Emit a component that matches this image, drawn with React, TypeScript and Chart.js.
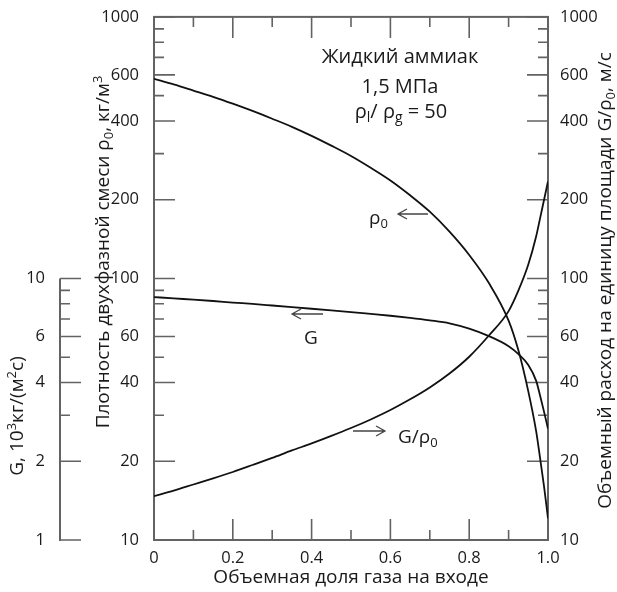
import React, { useEffect, useRef } from "react";
import { Chart, registerables } from "chart.js";

Chart.register(...registerables);

// ---- data ----
const gasFraction = [0, 0.05, 0.1, 0.15, 0.2, 0.25, 0.3, 0.35, 0.4, 0.45, 0.5, 0.55, 0.6, 0.65, 0.7, 0.75, 0.8, 0.85, 0.9, 0.925, 0.95, 0.97, 0.98, 0.99, 1.0];
const densityRho0 = [580, 552, 523, 495, 466, 437, 408, 380, 351, 322, 294, 265, 237, 208, 180, 151, 123, 96, 69, 53, 37, 26, 20.5, 16, 12.1];
const massFluxG = [8.49, 8.39, 8.3, 8.2, 8.09, 7.99, 7.88, 7.77, 7.66, 7.55, 7.44, 7.32, 7.2, 7.07, 6.92, 6.74, 6.43, 6.02, 5.51, 5.14, 4.67, 4.06, 3.56, 3.09, 2.66];
const volumeFlux = [14.7, 15.45, 16.3, 17.2, 18.2, 19.35, 20.6, 22.0, 23.4, 25.0, 26.8, 28.9, 31.4, 34.5, 38.3, 43.3, 50.2, 60.5, 75, 90, 113, 145, 170, 200, 235];

const xMajorTicks = [0, 0.2, 0.4, 0.6, 0.8, 1.0];
const xMinorTicks = [0.1, 0.3, 0.5, 0.7, 0.9];
const rhoMajorTicks = [10, 20, 40, 60, 100, 200, 400, 600, 1000];
const rhoMinorTicks = [30, 50, 70, 80, 90, 300, 500, 700, 800, 900];
const gMajorTicks = [1, 2, 4, 6, 10];
const gMinorTicks = [3, 5, 7, 8, 9];

const FONT = "'Open Sans', 'Noto Sans', sans-serif";
const TEXT = "#1a1a1a";
const AXIS = "#636363";
const CURVE = "#111";

type Seg = { t: string; k?: "sub" | "sup" };

function segFont(size: number, s: Seg) {
  return `${s.k ? Math.round(size * 0.68) : size}px ${FONT}`;
}
function measureRich(ctx: CanvasRenderingContext2D, segs: Seg[], size: number) {
  let w = 0;
  for (const s of segs) {
    ctx.font = segFont(size, s);
    w += ctx.measureText(s.t).width;
  }
  return w;
}
function drawRich(
  ctx: CanvasRenderingContext2D,
  segs: Seg[],
  x: number,
  y: number,
  size: number,
  align: "left" | "center",
  angle = 0
) {
  ctx.save();
  ctx.translate(x, y);
  ctx.rotate(angle);
  const w = measureRich(ctx, segs, size);
  let cx = align === "center" ? -w / 2 : 0;
  ctx.textBaseline = "alphabetic";
  ctx.textAlign = "left";
  ctx.fillStyle = TEXT;
  for (const s of segs) {
    ctx.font = segFont(size, s);
    const dy = s.k === "sub" ? size * 0.22 : s.k === "sup" ? -size * 0.38 : 0;
    ctx.fillText(s.t, cx, dy);
    cx += ctx.measureText(s.t).width;
  }
  ctx.restore();
}
function arrow(ctx: CanvasRenderingContext2D, x1: number, y: number, x2: number) {
  const d = Math.sign(x2 - x1);
  ctx.beginPath();
  ctx.moveTo(x1, y);
  ctx.lineTo(x2, y);
  ctx.moveTo(x2 - d * 9, y - 5);
  ctx.lineTo(x2, y);
  ctx.lineTo(x2 - d * 9, y + 5);
  ctx.stroke();
}

const decor = {
  id: "decor",
  beforeDatasetsDraw(chart: any) {
    const ctx: CanvasRenderingContext2D = chart.ctx;
    const { left, right, top, bottom } = chart.chartArea;
    const sx = chart.scales.x;
    const sy = chart.scales.y;
    const sy2 = chart.scales.y2;
    const sg = chart.scales.g;
    const MAJ = 21;
    const MIN = 10;
    ctx.save();
    ctx.strokeStyle = AXIS;
    ctx.lineWidth = 1.6;
    ctx.beginPath();
    const hTick = (v: number, len: number) => {
      const px = sx.getPixelForValue(v);
      ctx.moveTo(px, bottom);
      ctx.lineTo(px, bottom - len);
      ctx.moveTo(px, top);
      ctx.lineTo(px, top + len);
    };
    xMajorTicks.forEach((v) => hTick(v, MAJ));
    xMinorTicks.forEach((v) => hTick(v, MIN));
    const vTick = (scale: any, x: number, dir: number, v: number, len: number) => {
      const py = scale.getPixelForValue(v);
      ctx.moveTo(x, py);
      ctx.lineTo(x + dir * len, py);
    };
    rhoMajorTicks.forEach((v) => vTick(sy, left, 1, v, MAJ));
    rhoMinorTicks.forEach((v) => vTick(sy, left, 1, v, MIN));
    rhoMajorTicks.forEach((v) => vTick(sy2, right, -1, v, MAJ));
    rhoMinorTicks.forEach((v) => vTick(sy2, right, -1, v, MIN));
    const gx = sg.right;
    gMajorTicks.forEach((v) => vTick(sg, gx, 1, v, MAJ));
    gMinorTicks.forEach((v) => vTick(sg, gx, 1, v, MIN));
    ctx.stroke();

    ctx.lineWidth = 2;
    ctx.strokeRect(left, top, right - left, bottom - top);
    ctx.beginPath();
    ctx.moveTo(gx, sg.getPixelForValue(10));
    ctx.lineTo(gx, sg.getPixelForValue(1) + 1);
    ctx.stroke();
    ctx.restore();
  },
  afterDraw(chart: any) {
    const ctx: CanvasRenderingContext2D = chart.ctx;
    const { left, right, top, bottom } = chart.chartArea;
    ctx.save();
    // axis titles
    drawRich(ctx, [{ t: "Объемная доля газа на входе" }], (left + right) / 2, 583, 19, "center");
    drawRich(
      ctx,
      [{ t: "Плотность двухфазной смеси ρ" }, { t: "0", k: "sub" }, { t: ", кг/м" }, { t: "3", k: "sup" }],
      109,
      252,
      19,
      "center",
      -Math.PI / 2
    );
    drawRich(
      ctx,
      [{ t: "Объемный расход на единицу площади G/ρ" }, { t: "0", k: "sub" }, { t: ", м/с" }],
      611,
      (top + bottom) / 2 + 2,
      19,
      "center",
      -Math.PI / 2
    );
    drawRich(
      ctx,
      [{ t: "G, 10" }, { t: "3", k: "sup" }, { t: "кг/(м" }, { t: "2", k: "sup" }, { t: "с)" }],
      23,
      416,
      19,
      "center",
      -Math.PI / 2
    );
    // annotation block
    drawRich(ctx, [{ t: "Жидкий аммиак" }], 400, 63, 20, "center");
    drawRich(ctx, [{ t: "1,5 МПа" }], 400, 93, 20, "center");
    drawRich(
      ctx,
      [{ t: "ρ" }, { t: "l", k: "sub" }, { t: "/ ρ" }, { t: "g", k: "sub" }, { t: " = 50" }],
      401,
      118,
      20,
      "center"
    );
    // curve labels
    drawRich(ctx, [{ t: "ρ" }, { t: "0", k: "sub" }], 369, 224, 19, "left");
    drawRich(ctx, [{ t: "G" }], 304, 344, 19, "left");
    drawRich(ctx, [{ t: "G/ρ" }, { t: "0", k: "sub" }], 398, 443, 19, "left");
    ctx.strokeStyle = "#444";
    ctx.lineWidth = 1.3;
    arrow(ctx, 428, 214, 398);
    arrow(ctx, 323, 314, 292);
    arrow(ctx, 353, 431, 385);
    ctx.restore();
  },
};

const tickFont = { family: FONT, size: 16.5 };

function setTicks(values: number[]) {
  return (scale: any) => {
    scale.ticks = values.map((v) => ({ value: v }));
  };
}

export default function App() {
  const ref = useRef<HTMLCanvasElement>(null);
  useEffect(() => {
    const pts = (ys: number[]) => gasFraction.map((x, i) => ({ x, y: ys[i] }));
    const lineStyle = {
      borderColor: CURVE,
      borderWidth: 1.8,
      pointRadius: 0,
      fill: false,
      cubicInterpolationMode: "monotone" as const,
    };
    const chart = new Chart(ref.current!, {
      type: "line",
      data: {
        datasets: [
          { label: "rho0", data: pts(densityRho0), yAxisID: "y", ...lineStyle },
          { label: "G", data: pts(massFluxG), yAxisID: "g", ...lineStyle },
          { label: "G/rho0", data: pts(volumeFlux), yAxisID: "y2", ...lineStyle },
        ],
      },
      options: {
        animation: false,
        responsive: false,
        devicePixelRatio: 1,
        layout: { padding: { top: 12, left: 0, right: 0, bottom: 0 } },
        plugins: { legend: { display: false }, tooltip: { enabled: false } },
        scales: {
          x: {
            type: "linear",
            position: "bottom",
            min: 0,
            max: 1,
            grid: { display: false },
            border: { display: false },
            ticks: {
              padding: 0,
              font: tickFont,
              color: TEXT,
              maxRotation: 0,
              autoSkip: false,
              callback: (v: any) => (v === 0 ? "0" : Number(v).toFixed(1)),
            },
            afterBuildTicks: setTicks(xMajorTicks),
            afterFit: (s: any) => {
              s.height = 52;
            },
          },
          y: {
            type: "logarithmic",
            position: "left",
            min: 10,
            max: 1000,
            weight: 0,
            grid: { display: false },
            border: { display: false },
            ticks: { padding: 7, font: tickFont, color: TEXT, autoSkip: false, callback: (v: any) => String(v) },
            afterBuildTicks: setTicks(rhoMajorTicks),
            afterFit: (s: any) => {
              s.width = 94;
            },
          },
          g: {
            type: "logarithmic",
            position: "left",
            min: 1,
            max: 100,
            weight: 10,
            grid: { display: false },
            border: { display: false },
            ticks: { padding: 7, font: tickFont, color: TEXT, autoSkip: false, callback: (v: any) => String(v) },
            afterBuildTicks: setTicks(gMajorTicks),
            afterFit: (s: any) => {
              s.width = 60;
            },
          },
          y2: {
            type: "logarithmic",
            position: "right",
            min: 10,
            max: 1000,
            grid: { display: false },
            border: { display: false },
            ticks: { padding: 4, font: tickFont, color: TEXT, autoSkip: false, callback: (v: any) => String(v) },
            afterBuildTicks: setTicks(rhoMajorTicks),
            afterFit: (s: any) => {
              s.width = 69;
            },
          },
        },
      },
      plugins: [decor],
    } as any);
    return () => chart.destroy();
  }, []);
  return (
    <div style={{ position: "absolute", left: 0, top: 0, width: 617, height: 592, background: "#fff" }}>
      <canvas ref={ref} width={617} height={592} style={{ display: "block", width: 617, height: 592 }} />
    </div>
  );
}
